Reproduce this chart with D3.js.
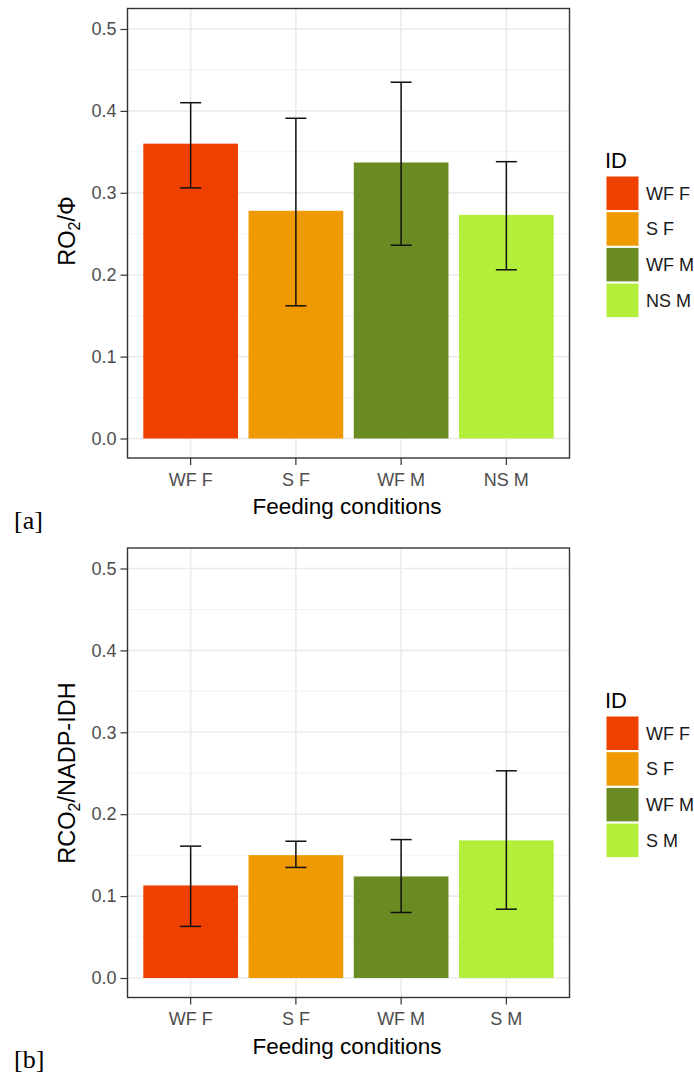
<!DOCTYPE html>
<html>
<head>
<meta charset="utf-8">
<script src="https://cdn.jsdelivr.net/npm/d3@7"></script>
<style>
	body { margin: 0; background: #fff; }
	svg { font-family: "Liberation Sans", Arial, sans-serif; }
	.tick text { fill: #4d4d4d; font-size: 18px; }
	.tick line { stroke: #333; stroke-width: 1.2; }
	.domain { display: none; }
</style>
</head>
<body>
<script>
const WIDTH = 694;
const HEIGHT = 1077;

// panel [a]
const categoriesA = ["WF F", "S F", "WF M", "NS M"];
const meansA = [0.360, 0.278, 0.337, 0.273];
const upperA = [0.410, 0.391, 0.435, 0.338];
const lowerA = [0.306, 0.162, 0.236, 0.206];

// panel [b]
const categoriesB = ["WF F", "S F", "WF M", "S M"];
const meansB = [0.113, 0.150, 0.124, 0.168];
const upperB = [0.161, 0.167, 0.169, 0.253];
const lowerB = [0.063, 0.135, 0.080, 0.084];

const yTicks = [0.0, 0.1, 0.2, 0.3, 0.4, 0.5];
const yMinor = [0.05, 0.15, 0.25, 0.35, 0.45];
const colours = ["#EE4000", "#EE9A00", "#698B22", "#B3EE3A"];

var drawPanel = function(svg, opt){
	var left = 127.5, right = 569.5;
	var top = opt.top, bottom = opt.top + 449.5;

	var x = d3.scaleBand().domain(opt.cats).range([left, right])
		.paddingInner(0.1).paddingOuter(0.15);
	// 0 and 0.5 sit 20px / 20px inside the panel edges
	var y = d3.scaleLinear().domain([0, 0.5]).range([bottom - 19.5, top + 20.5]);

	var g = svg.append('g');

	// grid
	g.selectAll('line.minor').data(yMinor).enter().append('line')
		.attr('x1', left).attr('x2', right)
		.attr('y1', function(d){ return y(d)}).attr('y2', function(d){ return y(d)})
		.attr('stroke', '#f2f2f2').attr('stroke-width', 1);
	g.selectAll('line.major').data(yTicks).enter().append('line')
		.attr('x1', left).attr('x2', right)
		.attr('y1', function(d){ return y(d)}).attr('y2', function(d){ return y(d)})
		.attr('stroke', '#ebebeb').attr('stroke-width', 1.6);
	g.selectAll('line.vgrid').data(opt.cats).enter().append('line')
		.attr('x1', function(d){ return x(d) + x.bandwidth()/2})
		.attr('x2', function(d){ return x(d) + x.bandwidth()/2})
		.attr('y1', top).attr('y2', bottom)
		.attr('stroke', '#ebebeb').attr('stroke-width', 1.6);

	// bars
	g.selectAll('rect.bar').data(opt.cats).enter().append('rect')
		.attr('x', function(d){ return x(d)})
		.attr('width', x.bandwidth())
		.attr('y', function(d, i){ return y(opt.means[i])})
		.attr('height', function(d, i){ return y(0) - y(opt.means[i])})
		.attr('fill', function(d, i){ return colours[i]});

	// error bars
	var capW = x.step() * 0.2;
	opt.cats.forEach(function(c, i){
		var cx = x(c) + x.bandwidth()/2;
		var eb = g.append('g').attr('stroke', '#111').attr('stroke-width', 1.5);
		eb.append('line').attr('x1', cx).attr('x2', cx)
			.attr('y1', y(opt.upper[i])).attr('y2', y(opt.lower[i]));
		eb.append('line').attr('x1', cx - capW/2).attr('x2', cx + capW/2)
			.attr('y1', y(opt.upper[i])).attr('y2', y(opt.upper[i]));
		eb.append('line').attr('x1', cx - capW/2).attr('x2', cx + capW/2)
			.attr('y1', y(opt.lower[i])).attr('y2', y(opt.lower[i]));
	});

	// border
	g.append('rect').attr('x', left).attr('y', top)
		.attr('width', right - left).attr('height', bottom - top)
		.attr('fill', 'none').attr('stroke', '#333').attr('stroke-width', 1.4);

	// axes
	g.append('g').attr('transform', 'translate(' + left + ',0)')
		.call(d3.axisLeft(y).tickValues(yTicks).tickFormat(d3.format('.1f')).tickSize(7).tickPadding(4));
	g.append('g').attr('transform', 'translate(0,' + bottom + ')')
		.call(d3.axisBottom(x).tickSize(7).tickPadding(8));

	// titles
	svg.append('text').attr('x', 347).attr('y', bottom + 56)
		.attr('text-anchor', 'middle').attr('font-size', 22.5).attr('fill', '#000')
		.text('Feeding conditions');

	var yt = svg.append('text')
		.attr('transform', 'translate(75,' + opt.titleY + ') rotate(-90)')
		.attr('text-anchor', 'middle').attr('font-size', 23.5).attr('fill', '#000');
	yt.append('tspan').text(opt.yTitle[0]);
	yt.append('tspan').attr('font-size', 16).attr('dy', 5).text('2');
	yt.append('tspan').attr('dy', -5).text(opt.yTitle[1]);

	// legend
	var lg = svg.append('g').attr('transform', 'translate(605,' + opt.legendY + ')');
	lg.append('text').attr('x', 0).attr('y', 0).attr('font-size', 22).attr('fill', '#000').text('ID');
	lg.selectAll('rect').data(opt.cats).enter().append('rect')
		.attr('x', 1.5).attr('y', function(d, i){ return 8.5 + i*35.7})
		.attr('width', 32).attr('height', 33.5)
		.attr('fill', function(d, i){ return colours[i]});
	lg.selectAll('text.lab').data(opt.cats).enter().append('text')
		.attr('x', 41).attr('y', function(d, i){ return 8.5 + i*35.7 + 23})
		.attr('font-size', 18).attr('fill', '#1a1a1a')
		.text(function(d){ return d});

	// panel tag
	svg.append('text').attr('x', 14).attr('y', opt.tagY)
		.attr('font-family', '"Liberation Serif", "Times New Roman", serif')
		.attr('font-size', 26).attr('fill', '#000').text(opt.tag);
}

window.onload = function(){
	var svg = d3.select('body').append('svg')
		.attr('width', WIDTH).attr('height', HEIGHT);

	drawPanel(svg, {
		top: 8.5, cats: categoriesA, means: meansA, upper: upperA, lower: lowerA,
		yTitle: ['RO', '/\u03A6'], titleY: 231, legendY: 168, tag: '[a]', tagY: 529
	});
	drawPanel(svg, {
		top: 548, cats: categoriesB, means: meansB, upper: upperB, lower: lowerB,
		yTitle: ['RCO', '/NADP-IDH'], titleY: 773, legendY: 708, tag: '[b]', tagY: 1068
	});
}
</script>
</body>
</html>
